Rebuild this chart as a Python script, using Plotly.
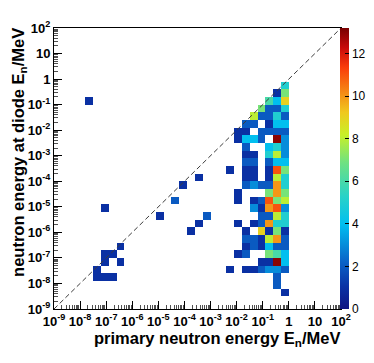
import numpy as np
import plotly.graph_objects as go

# log10 of bin centres (MeV) of filled cells, and their contents
prim_log = [
    -7.65, -7.05, -4.05, -3.45, -4.35, -4.95, -3.15, -3.45, -3.75,
    -6.45, -7.05, -6.75, -7.05, -6.45, -7.35, -7.35, -7.05, -6.75,
    -0.15,
    -0.45, -0.15,
    -0.75, -0.45, -0.15,
    -1.05, -0.75, -0.45, -0.15,
    -1.35, -1.05, -0.75, -0.45, -0.15,
    -1.65, -1.35, -0.75, -0.45, -0.15,
    -1.95, -1.65, -1.05, -0.75, -0.45, -0.15,
    -1.95, -1.65, -1.35, -1.05, -0.45, -0.15,
    -1.65, -0.75, -0.45, -0.15,
    -1.65, -1.35, -0.75, -0.45, -0.15,
    -1.65, -1.35, -0.75, -0.45, -0.15,
    -2.25, -1.65, -1.35, -0.75, -0.45, -0.15,
    -1.65, -1.35, -0.75, -0.45, -0.15,
    -1.65, -1.35, -1.05, -0.75, -0.45, -0.15,
    -1.95, -0.75, -0.45, -0.15,
    -1.95, -1.35, -1.05, -0.75, -0.45, -0.15,
    -1.35, -1.05, -0.75, -0.45, -0.15,
    -1.05, -0.75, -0.45, -0.15,
    -1.95, -1.35, -1.05, -0.75, -0.45, -0.15,
    -1.65, -1.05, -0.75, -0.45, -0.15,
    -1.65, -1.35, -1.05, -0.75, -0.45, -0.15,
    -1.65, -1.35, -1.05, -0.75, -0.45, -0.15,
    -1.95, -1.65, -0.75, -0.45, -0.15,
    -1.05, -0.75, -0.45, -0.15,
    -2.25, -1.65, -1.35, -1.05, -0.75, -0.45, -0.15,
    -0.45,
    -0.45,
    -0.15,
]
diode_log = [
    -0.85, -5.05, -4.15, -3.85, -4.75, -5.35, -5.35, -5.65, -5.95,
    -6.55, -6.85, -6.85, -7.15, -7.15, -7.45, -7.75, -7.75, -7.75,
    -0.25,
    -0.55, -0.55,
    -0.85, -0.85, -0.85,
    -1.15, -1.15, -1.15, -1.15,
    -1.45, -1.45, -1.45, -1.45, -1.45,
    -1.75, -1.75, -1.75, -1.75, -1.75,
    -2.05, -2.05, -2.05, -2.05, -2.05, -2.05,
    -2.35, -2.35, -2.35, -2.35, -2.35, -2.35,
    -2.65, -2.65, -2.65, -2.65,
    -2.95, -2.95, -2.95, -2.95, -2.95,
    -3.25, -3.25, -3.25, -3.25, -3.25,
    -3.55, -3.55, -3.55, -3.55, -3.55, -3.55,
    -3.85, -3.85, -3.85, -3.85, -3.85,
    -4.15, -4.15, -4.15, -4.15, -4.15, -4.15,
    -4.45, -4.45, -4.45, -4.45,
    -4.75, -4.75, -4.75, -4.75, -4.75, -4.75,
    -5.05, -5.05, -5.05, -5.05, -5.05,
    -5.35, -5.35, -5.35, -5.35,
    -5.65, -5.65, -5.65, -5.65, -5.65, -5.65,
    -5.95, -5.95, -5.95, -5.95, -5.95,
    -6.25, -6.25, -6.25, -6.25, -6.25, -6.25,
    -6.55, -6.55, -6.55, -6.55, -6.55, -6.55,
    -6.85, -6.85, -6.85, -6.85, -6.85,
    -7.15, -7.15, -7.15, -7.15,
    -7.45, -7.45, -7.45, -7.45, -7.45, -7.45, -7.45,
    -7.75,
    -8.05,
    -8.35,
]
counts = [
    1, 1, 1, 1, 2, 1, 2, 1, 1,
    1, 1, 1, 1, 1, 1, 1, 1, 1,
    5,
    1, 7,
    6, 4, 9,
    7, 2, 2, 5,
    8, 2, 2, 5, 2,
    2, 2, 1, 4, 4,
    1, 1, 2, 2, 2, 2,
    1, 4, 4, 2, 13, 3,
    2, 4, 5, 3,
    1, 1, 5, 8, 3,
    2, 2, 2, 4, 4,
    1, 1, 1, 1, 11, 7,
    1, 1, 1, 8, 5,
    2, 3, 2, 2, 10, 5,
    1, 7, 10, 7,
    1, 1, 2, 11, 7, 8,
    3, 1, 10, 11, 3,
    2, 2, 8, 5,
    1, 1, 2, 10, 5, 5,
    1, 9, 1, 7, 1,
    2, 2, 1, 8, 10, 2,
    1, 2, 1, 4, 2, 2,
    1, 2, 7, 6, 4,
    1, 1, 13, 4,
    1, 1, 1, 2, 3, 3, 2,
    2,
    2,
    1,
]

# axis decades and their labels (ROOT style)
decades = list(range(-9, 3))
decade_labels = ["1" if e == 0 else "10" if e == 1 else "10<sup>%d</sup>" % e for e in decades]

# binning: 0.3 decades per bin
x_edges = np.round(np.arange(-9.0, 2.11, 0.3), 2)
y_edges = np.round(np.arange(-9.1, 2.01, 0.3), 2)

z = np.full((len(y_edges) - 1, len(x_edges) - 1), np.nan)
for xl, yl, c in zip(prim_log, diode_log, counts):
    i = np.searchsorted(x_edges, xl) - 1
    j = np.searchsorted(y_edges, yl) - 1
    z[j, i] = c

root_rainbow = [
    [0.00, "rgb(15,20,130)"],
    [0.08, "rgb(10,50,165)"],
    [0.17, "rgb(10,100,200)"],
    [0.30, "rgb(0,190,240)"],
    [0.40, "rgb(40,210,200)"],
    [0.52, "rgb(110,225,130)"],
    [0.62, "rgb(200,240,40)"],
    [0.70, "rgb(240,200,30)"],
    [0.78, "rgb(245,130,20)"],
    [0.86, "rgb(250,60,10)"],
    [0.93, "rgb(200,10,10)"],
    [1.00, "rgb(120,0,0)"],
]

fig = go.Figure()

fig.add_trace(go.Heatmap(
    x=10 ** x_edges,
    y=10 ** y_edges,
    z=z,
    zmin=0,
    zmax=13.2,
    colorscale=root_rainbow,
    hoverongaps=False,
    colorbar=dict(
        x=0.996, xanchor="left", xpad=0,
        y=0.5, yanchor="middle", ypad=0,
        len=1, thickness=9, outlinewidth=0,
        tick0=0, dtick=2, ticks="inside", ticklen=4,
        tickcolor="black",
        tickfont=dict(family="Liberation Sans", size=12, color="black"),
    ),
))

# E_diode = E_primary reference line
fig.add_trace(go.Scatter(
    x=[1e-9, 1e2], y=[1e-9, 1e2],
    mode="lines",
    line=dict(color="rgb(60,60,60)", width=1, dash="5px,3px"),
    showlegend=False, hoverinfo="skip",
))

minor_vals = [m * 10.0 ** e for e in decades[:-1] for m in range(2, 10)]

axis_style = dict(
    type="log",
    range=[-9, 2],
    tickmode="array",
    tickvals=[10.0 ** e for e in decades],
    ticktext=decade_labels,
    tickangle=0,
    showgrid=False,
    zeroline=False,
    showline=True,
    linecolor="black",
    linewidth=1,
    mirror=True,
    ticks="inside",
    ticklen=8,
    tickcolor="black",
    minor=dict(ticks="inside", ticklen=4, tickmode="array", tickvals=minor_vals,
               tickcolor="rgb(80,80,80)", showgrid=False),
    tickfont=dict(family="Liberation Sans", size=13, color="black", weight="bold"),
)

fig.update_layout(
    width=374,
    height=363,
    margin=dict(l=46, r=41, t=20, b=62, autoexpand=False),
    paper_bgcolor="white",
    plot_bgcolor="white",
    xaxis=axis_style,
    yaxis=axis_style,
    showlegend=False,
    font=dict(family="Liberation Sans"),
)

title_font = dict(family="Liberation Sans", size=16.5, color="black", weight="bold")
fig.add_annotation(
    text="primary neutron energy E<sub>n</sub>/MeV",
    xref="paper", yref="paper", x=1.005, y=-0.105,
    xanchor="right", yanchor="middle", showarrow=False, font=title_font,
)
fig.add_annotation(
    text="neutron energy at diode E<sub>n</sub>/MeV",
    xref="paper", yref="paper", x=-0.124, y=1.007,
    xanchor="center", yanchor="top", textangle=-90, showarrow=False, font=title_font,
)

fig.write_html("out.html")
